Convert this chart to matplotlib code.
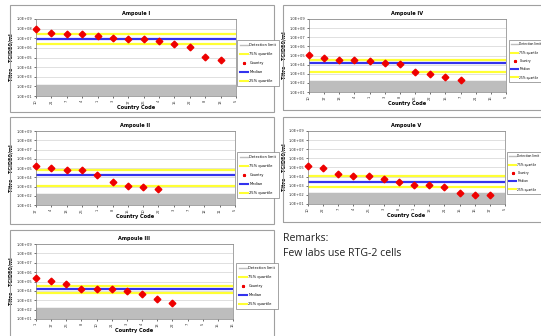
import numpy as np
import matplotlib
matplotlib.use("Agg")
import matplotlib.pyplot as plt
from matplotlib.patches import Rectangle
from matplotlib.lines import Line2D

W, H = 541, 336

# log10 titres (Country points)
amp1_log = [7.92, 7.54, 7.40, 7.40, 7.23, 7.05, 6.88, 6.88, 6.74, 6.39, 6.04, 5.07, 4.72]
amp4_log = [5.01, 4.69, 4.50, 4.50, 4.36, 4.18, 4.03, 3.19, 3.01, 2.68, 2.31]
amp2_log = [5.23, 5.05, 4.73, 4.73, 4.23, 3.54, 3.08, 2.90, 2.72]
amp5_log = [5.12, 4.94, 4.25, 4.07, 4.07, 3.70, 3.37, 3.04, 3.04, 2.86, 2.20, 2.02, 2.02]
amp3_log = [5.39, 5.04, 4.71, 4.21, 4.21, 4.21, 4.04, 3.68, 3.18, 2.68]

# (75% quartile, median, 25% quartile) in log10
amp1_q = [7.40, 6.91, 6.43]
amp4_q = [4.50, 4.18, 3.15]
amp2_q = [4.73, 4.26, 3.04]
amp5_q = [4.07, 3.37, 2.86]
amp3_q = [4.57, 4.18, 3.75]

detection_log = 2.18

codes1 = ["10", "21", "7", "4", "1", "3", "17", "26", "4", "15", "22", "8", "13", "5"]
codes4 = ["10", "17", "13", "4", "1", "3", "8", "26", "22", "15", "7", "21", "16", "5"]
codes2 = ["17", "4", "13", "26", "1", "8", "15", "10", "22", "3", "7", "12", "11", "5"]
codes5 = ["10", "22", "7", "4", "26", "3", "8", "1", "13", "21", "15", "16", "17", "5"]
codes3 = ["1", "17", "26", "8", "10", "21", "3", "4", "13", "22", "7", "5", "15", "16"]

fig = plt.figure(figsize=(W / 100, H / 100), dpi=100)
fig.patch.set_facecolor("white")


def fx(x):
    return x / W


def fy(y):
    return 1 - y / H


def panel(box, plot, leg, title, logs, quart, codes, leg_font):
    bx0, by0, bx1, by1 = box
    fig.patches.append(Rectangle((fx(bx0), fy(by1)), fx(bx1 - bx0), (by1 - by0) / H,
                                 transform=fig.transFigure, fill=False,
                                 edgecolor="#a0a0a0", linewidth=0.8, zorder=0))
    x0, y0, x1, y1 = plot
    ax = fig.add_axes([fx(x0), fy(y1), fx(x1 - x0), (y1 - y0) / H])
    ax.set_yscale("log")
    ax.set_ylim(1e1, 1e9)
    ax.set_xlim(0, 13)
    ax.set_yticks([10.0 ** k for k in range(1, 10)])
    ax.set_yticklabels(["1.0E+%02d" % k for k in range(1, 10)], fontsize=2.6, color="#333333")
    ax.minorticks_off()
    ax.set_xticks(range(14))
    ax.set_xticklabels(codes, fontsize=2.6, rotation=90, color="#333333")
    ax.tick_params(length=1.5, width=0.4, pad=1)
    ax.grid(axis="y", color="#c8c8c8", linewidth=0.4)
    ax.set_axisbelow(True)
    for s in ax.spines.values():
        s.set_linewidth(0.5)
        s.set_color("#808080")

    det = 10 ** detection_log
    ax.axhspan(1e1, det, color="#bdbdbd", zorder=1)
    ax.axhline(det, color="#bdbdbd", linewidth=0.8, zorder=1)
    ax.axhline(10 ** quart[0], color="#ffff33", linewidth=1.6, zorder=2)
    ax.axhline(10 ** quart[1], color="#3333ee", linewidth=1.6, zorder=2)
    ax.axhline(10 ** quart[2], color="#ffff33", linewidth=1.6, zorder=2)
    vals = 10 ** np.array(logs)
    ax.plot(range(len(vals)), vals, linestyle="none", marker="D", markersize=3.4,
            color="#ee0000", clip_on=False, zorder=3)

    ax.set_title(title, fontsize=3.6, fontweight="bold", pad=3)
    ax.set_xlabel("Country Code", fontsize=3.6, fontweight="bold", labelpad=1)
    ax.set_ylabel("Titre - TCID50/ml", fontsize=3.6, fontweight="bold", labelpad=2)

    handles = [
        Line2D([], [], color="#bdbdbd", linewidth=1),
        Line2D([], [], color="#ffff33", linewidth=1.5),
        Line2D([], [], color="#ee0000", marker="*", linestyle="none", markersize=2),
        Line2D([], [], color="#3333ee", linewidth=1.5),
        Line2D([], [], color="#ffff33", linewidth=1.5),
    ]
    labels = ["Detection limit", "75% quartile", "Country", "Median", "25% quartile"]
    lx0, ly0 = leg
    lg = fig.legend(handles, labels, loc="upper left",
                    bbox_to_anchor=(fx(lx0), fy(ly0)), fontsize=leg_font,
                    handlelength=2.2, handletextpad=0.4, labelspacing=1.4,
                    borderpad=0.8, borderaxespad=0,
                    fancybox=False, framealpha=1)
    lg.get_frame().set_linewidth(0.5)
    lg.get_frame().set_edgecolor("#808080")
    return ax


panel((10, 5, 274, 112), (36, 19, 236, 96), (237, 40), "Ampoule I", amp1_log, amp1_q, codes1, 2.6)
panel((283, 5, 545, 110), (309, 19, 506, 92), (509, 40), "Ampoule IV", amp4_log, amp4_q, codes4, 2.2)
panel((10, 117, 274, 224), (36, 131, 235, 205), (237, 152), "Ampoule II", amp2_log, amp2_q, codes2, 2.6)
panel((283, 117, 545, 222), (308, 131, 505, 204), (507, 152), "Ampoule V", amp5_log, amp5_q, codes5, 2.2)
panel((10, 230, 274, 340), (36, 244, 233, 319), (236, 263), "Ampoule III", amp3_log, amp3_q, codes3, 2.6)

fig.text(fx(283), fy(233), "Remarks:\nFew labs use RTG-2 cells", fontsize=7.6,
         family="Open Sans", va="top", ha="left", linespacing=1.55, color="#222222")

fig.savefig("out.png", dpi=100)
